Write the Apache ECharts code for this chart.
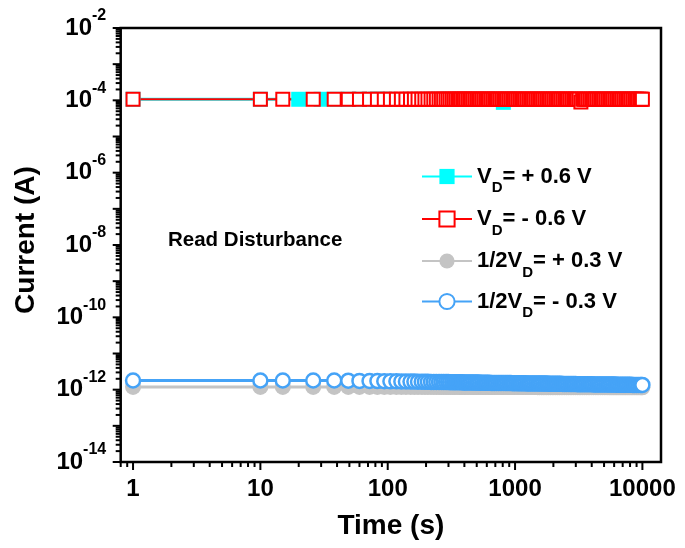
<!DOCTYPE html>
<html><head><meta charset="utf-8">
<script src="https://cdn.jsdelivr.net/npm/echarts@6/dist/echarts.min.js"></script>
<style>html,body{margin:0;padding:0;background:#fff}#c{width:685px;height:548px}</style>
</head><body><div id="c"></div>
<script>
// ---- data ----
const times = [
  1, 10, 15, 26, 38, 49, 60, 72, 83, 94,
  105, 117, 128, 139, 151, 162, 173, 185, 196, 207,
  219, 230, 241, 253, 264, 275, 287, 298, 309, 321,
  332, 343, 355, 366, 377, 389, 400,
  412, 426, 440, 454, 469, 485, 501, 517, 534, 552,
  570, 589, 608, 628, 649, 670, 692, 715, 739, 763,
  788, 814, 841, 869, 898, 927, 958, 989, 1022, 1056,
  1090, 1126, 1164, 1202, 1242, 1283, 1325, 1369, 1414, 1461,
  1509, 1559, 1610, 1663, 1718, 1775, 1834, 1894, 1957, 2021,
  2088, 2157, 2228, 2301, 2377, 2456, 2537, 2620, 2707, 2796,
  2888, 2984, 3082, 3184, 3289, 3398, 3510, 3626, 3745, 3869,
  3997, 4128, 4265, 4405, 4551, 4701, 4856, 5016, 5182, 5353,
  5529, 5712, 5900, 6095, 6296, 6504, 6719, 6940, 7169, 7406,
  7650, 7903, 8163, 8433, 8711, 8998, 9295, 9602, 9800, 10000
];
const redVals = [
  1.07e-4, 1.07e-4, 1.07e-4, 1.07e-4, 1.07e-4, 1.07e-4, 1.07e-4, 1.07e-4, 1.07e-4, 1.07e-4,
  1.07e-4, 1.07e-4, 1.07e-4, 1.07e-4, 1.07e-4, 1.07e-4, 1.07e-4, 1.07e-4, 1.07e-4, 1.07e-4,
  1.07e-4, 1.07e-4, 1.07e-4, 1.07e-4, 1.07e-4, 1.07e-4, 1.07e-4, 1.07e-4, 1.07e-4, 1.07e-4,
  1.07e-4, 1.07e-4, 1.07e-4, 1.07e-4, 1.07e-4, 1.07e-4, 1.07e-4,
  1.07e-4, 1.07e-4, 1.07e-4, 1.07e-4, 1.07e-4, 1.07e-4, 1.07e-4, 1.07e-4, 1.07e-4, 1.07e-4,
  1.07e-4, 1.07e-4, 1.07e-4, 1.07e-4, 1.07e-4, 1.07e-4, 1.07e-4, 1.07e-4, 1.07e-4, 1.07e-4,
  1.07e-4, 1.07e-4, 1.07e-4, 1.07e-4, 1.07e-4, 1.07e-4, 1.07e-4, 1.07e-4, 1.07e-4, 1.07e-4,
  1.07e-4, 1.07e-4, 1.07e-4, 1.07e-4, 1.07e-4, 1.07e-4, 1.07e-4, 1.07e-4, 1.07e-4, 1.07e-4,
  1.07e-4, 1.07e-4, 1.07e-4, 1.07e-4, 1.07e-4, 1.07e-4, 1.07e-4, 1.07e-4, 1.07e-4, 1.07e-4,
  1.07e-4, 1.07e-4, 1.07e-4, 1.07e-4, 1.07e-4, 1.07e-4, 1.07e-4, 1.07e-4, 1.07e-4, 1.07e-4,
  1.07e-4, 1.07e-4, 1.07e-4, 1.07e-4, 9.0e-5, 1.07e-4, 1.07e-4, 1.07e-4, 1.07e-4, 1.07e-4,
  1.07e-4, 1.07e-4, 1.07e-4, 1.07e-4, 1.07e-4, 1.07e-4, 1.07e-4, 1.07e-4, 1.07e-4, 1.07e-4,
  1.07e-4, 1.07e-4, 1.07e-4, 1.07e-4, 1.07e-4, 1.07e-4, 1.07e-4, 1.07e-4, 1.07e-4, 1.07e-4,
  1.07e-4, 1.07e-4, 1.07e-4, 1.07e-4, 1.07e-4, 1.07e-4, 1.07e-4, 1.07e-4, 1.07e-4, 1.07e-4
];
const grayVals = [
  1.19e-12, 1.19e-12, 1.19e-12, 1.19e-12, 1.19e-12, 1.19e-12, 1.19e-12, 1.19e-12, 1.19e-12, 1.19e-12,
  1.19e-12, 1.19e-12, 1.19e-12, 1.19e-12, 1.19e-12, 1.19e-12, 1.19e-12, 1.19e-12, 1.19e-12, 1.19e-12,
  1.19e-12, 1.19e-12, 1.19e-12, 1.19e-12, 1.19e-12, 1.19e-12, 1.19e-12, 1.19e-12, 1.19e-12, 1.19e-12,
  1.19e-12, 1.19e-12, 1.19e-12, 1.19e-12, 1.19e-12, 1.19e-12, 1.19e-12,
  1.18e-12, 1.18e-12, 1.18e-12, 1.18e-12, 1.18e-12, 1.18e-12, 1.18e-12, 1.18e-12, 1.18e-12, 1.18e-12,
  1.18e-12, 1.18e-12, 1.18e-12, 1.18e-12, 1.18e-12, 1.18e-12, 1.18e-12, 1.18e-12, 1.18e-12, 1.18e-12,
  1.18e-12, 1.18e-12, 1.18e-12, 1.18e-12, 1.18e-12, 1.18e-12, 1.18e-12, 1.18e-12, 1.18e-12, 1.18e-12,
  1.18e-12, 1.18e-12, 1.18e-12, 1.18e-12, 1.18e-12, 1.18e-12, 1.18e-12, 1.18e-12, 1.18e-12, 1.18e-12,
  1.17e-12, 1.17e-12, 1.17e-12, 1.17e-12, 1.17e-12, 1.17e-12, 1.17e-12, 1.17e-12, 1.17e-12, 1.17e-12,
  1.17e-12, 1.17e-12, 1.17e-12, 1.17e-12, 1.17e-12, 1.17e-12, 1.17e-12, 1.17e-12, 1.17e-12, 1.17e-12,
  1.17e-12, 1.17e-12, 1.17e-12, 1.17e-12, 1.17e-12, 1.17e-12, 1.17e-12, 1.17e-12, 1.17e-12, 1.17e-12,
  1.17e-12, 1.17e-12, 1.17e-12, 1.17e-12, 1.17e-12, 1.17e-12, 1.17e-12, 1.17e-12, 1.17e-12, 1.17e-12,
  1.16e-12, 1.16e-12, 1.16e-12, 1.16e-12, 1.16e-12, 1.16e-12, 1.16e-12, 1.16e-12, 1.16e-12, 1.16e-12,
  1.16e-12, 1.16e-12, 1.16e-12, 1.16e-12, 1.16e-12, 1.16e-12, 1.16e-12, 1.16e-12, 1.16e-12, 1.16e-12
];
const blueVals = [
  1.79e-12, 1.79e-12, 1.79e-12, 1.79e-12, 1.79e-12, 1.77e-12, 1.75e-12, 1.74e-12, 1.73e-12, 1.71e-12,
  1.70e-12, 1.70e-12, 1.69e-12, 1.68e-12, 1.67e-12, 1.67e-12, 1.66e-12, 1.66e-12, 1.65e-12, 1.65e-12,
  1.64e-12, 1.64e-12, 1.63e-12, 1.63e-12, 1.63e-12, 1.62e-12, 1.62e-12, 1.62e-12, 1.61e-12, 1.61e-12,
  1.61e-12, 1.60e-12, 1.60e-12, 1.60e-12, 1.60e-12, 1.59e-12, 1.59e-12,
  1.59e-12, 1.59e-12, 1.58e-12, 1.58e-12, 1.58e-12, 1.57e-12, 1.57e-12, 1.57e-12, 1.56e-12, 1.56e-12,
  1.56e-12, 1.55e-12, 1.55e-12, 1.55e-12, 1.54e-12, 1.54e-12, 1.54e-12, 1.54e-12, 1.53e-12, 1.53e-12,
  1.53e-12, 1.53e-12, 1.52e-12, 1.52e-12, 1.52e-12, 1.52e-12, 1.51e-12, 1.51e-12, 1.51e-12, 1.51e-12,
  1.50e-12, 1.50e-12, 1.50e-12, 1.50e-12, 1.49e-12, 1.49e-12, 1.49e-12, 1.49e-12, 1.48e-12, 1.48e-12,
  1.48e-12, 1.48e-12, 1.47e-12, 1.47e-12, 1.47e-12, 1.47e-12, 1.46e-12, 1.46e-12, 1.46e-12, 1.46e-12,
  1.45e-12, 1.45e-12, 1.45e-12, 1.45e-12, 1.44e-12, 1.44e-12, 1.44e-12, 1.44e-12, 1.43e-12, 1.43e-12,
  1.43e-12, 1.43e-12, 1.42e-12, 1.42e-12, 1.42e-12, 1.42e-12, 1.41e-12, 1.41e-12, 1.41e-12, 1.41e-12,
  1.41e-12, 1.40e-12, 1.40e-12, 1.40e-12, 1.40e-12, 1.39e-12, 1.39e-12, 1.39e-12, 1.39e-12, 1.39e-12,
  1.38e-12, 1.38e-12, 1.38e-12, 1.38e-12, 1.37e-12, 1.37e-12, 1.37e-12, 1.37e-12, 1.36e-12, 1.36e-12,
  1.36e-12, 1.36e-12, 1.36e-12, 1.35e-12, 1.35e-12, 1.35e-12, 1.35e-12, 1.35e-12, 1.35e-12, 1.35e-12
];
const cyanTimes = [1, 10, 20, 30, 40, 50, 60, 70, 80, 90, 100, 150, 200, 250, 300, 400, 500, 600, 700, 809, 900, 1000, 1500, 2000, 3000, 4000, 5000, 6000, 7000, 8000, 9000];
const cyanVals = [
  1.07e-4, 1.07e-4, 1.07e-4, 1.07e-4, 1.07e-4, 1.07e-4, 1.07e-4, 1.07e-4, 1.07e-4, 1.07e-4,
  1.07e-4, 1.07e-4, 1.07e-4, 1.07e-4, 1.07e-4, 1.07e-4, 1.07e-4, 1.07e-4, 1.07e-4, 8.8e-5,
  1.07e-4, 1.07e-4, 1.07e-4, 1.07e-4, 1.07e-4, 1.07e-4, 1.07e-4, 1.07e-4, 1.07e-4, 1.07e-4, 1.07e-4
];
const seriesNames = ['VD= + 0.6 V', 'VD= - 0.6 V', '1/2VD= + 0.3 V', '1/2VD= - 0.3 V'];
const xTickLabels = [1, 10, 100, 1000, 10000];
const yTickExponents = [-14, -12, -10, -8, -6, -4, -2];

// ---- axis extents ----
const X_MIN = 0.8, X_MAX = 14000, Y_MIN = 1e-14, Y_MAX = 1e-2;
const FONT = '"Liberation Sans", Arial, sans-serif';

// tick marks (drawn through the axes' log scales)
const xMajor = xTickLabels.slice();
const xMinor = [0.8, 0.9];
[1, 10, 100, 1000].forEach(d => { for (let k = 2; k <= 9; k++) xMinor.push(k * d); });
const yMajor = [], yMinor = [];
for (let e = -14; e <= -2; e++) {
  yMajor.push(Number('1e' + e));
  if (e < -2) for (let k = 2; k <= 9; k++) yMinor.push(Number(k + 'e' + e));
}
const tickData = []
  .concat(xMajor.map(v => [v, Y_MIN, 0]))
  .concat(xMinor.map(v => [v, Y_MIN, 1]))
  .concat(yMajor.map(v => [X_MIN, v, 2]))
  .concat(yMinor.map(v => [X_MIN, v, 3]));

function isLabelValue(v, list) {
  return list.some(t => Math.abs(Math.log10(v) - Math.log10(t)) < 1e-6);
}

const pair = (xs, ys) => xs.map((t, i) => [t, ys[i]]);

const legendRich = {
  n: {fontFamily: FONT, fontWeight: 'bold', fontSize: 22, color: '#000', lineHeight: 38},
  d: {fontFamily: FONT, fontWeight: 'bold', fontSize: 15, color: '#000', lineHeight: 15, verticalAlign: 'bottom'}
};
const legendTops = [165.5, 208, 250, 290.5];
const legends = seriesNames.map((nm, i) => ({
  orient: 'vertical', left: 421, top: legendTops[i], padding: 0,
  itemWidth: 50, itemHeight: 19, selectedMode: false,
  data: [nm],
  formatter: name => {
    const j = name.indexOf('VD');
    return '{n|' + name.slice(0, j) + 'V}{d|D}{n|' + name.slice(j + 2) + '}';
  },
  textStyle: {color: '#000', fontFamily: FONT, fontWeight: 'bold', fontSize: 22, rich: legendRich}
}));

const chart = echarts.init(document.getElementById('c'), null, {renderer: 'canvas'});
chart.setOption({
  animation: false,
  backgroundColor: '#fff',
  grid: {left: 120.7, right: 24, top: 28, bottom: 86, show: true, borderColor: '#000', borderWidth: 2.5, backgroundColor: 'transparent'},
  xAxis: {
    type: 'log', logBase: 10, min: X_MIN, max: X_MAX,
    axisLine: {show: false}, axisTick: {show: false}, splitLine: {show: false}, minorTick: {show: false},
    axisLabel: {
      margin: 15, color: '#000', fontFamily: FONT, fontWeight: 'bold', fontSize: 24,
      formatter: v => isLabelValue(v, xTickLabels) ? String(Math.round(v)) : ''
    },
    name: 'Time (s)', nameLocation: 'middle', nameGap: 50,
    nameTextStyle: {color: '#000', fontFamily: FONT, fontWeight: 'bold', fontSize: 28}
  },
  yAxis: [
    {
      type: 'log', logBase: 10, min: Y_MIN, max: Y_MAX,
      axisLine: {show: false}, axisTick: {show: false}, splitLine: {show: false}, axisLabel: {show: false},
      name: 'Current (A)', nameLocation: 'middle', nameGap: 80,
      nameTextStyle: {color: '#000', fontFamily: FONT, fontWeight: 'bold', fontSize: 28, padding: [0, 0, 0, 10]}
    },
    {
      type: 'value', position: 'left', min: yTickExponents[0], max: yTickExponents[yTickExponents.length - 1], interval: 2,
      axisLine: {show: false}, axisTick: {show: false}, splitLine: {show: false},
      axisLabel: {
        margin: 14.5, color: '#000',
        formatter: v => '{b|10}{s|' + v + '}',
        rich: {
          b: {fontFamily: FONT, fontWeight: 'bold', fontSize: 24, color: '#000', lineHeight: 40},
          s: {fontFamily: FONT, fontWeight: 'bold', fontSize: 16, color: '#000', lineHeight: 16, verticalAlign: 'top'}
        }
      }
    }
  ],
  legend: legends,
  graphic: [{
    type: 'text', left: 168, top: 230,
    style: {text: 'Read Disturbance', font: 'bold 20.5px ' + FONT, fill: '#000'}
  }],
  series: [
    {
      name: seriesNames[0], type: 'line', data: pair(cyanTimes, cyanVals),
      symbol: 'rect', symbolSize: 15, showAllSymbol: true, silent: true,
      itemStyle: {color: '#00ffff'}, lineStyle: {color: '#00ffff', width: 3},
      emphasis: {disabled: true}
    },
    {
      name: seriesNames[1], type: 'line', data: pair(times, redVals),
      symbol: 'rect', symbolSize: 13, showAllSymbol: true, silent: true,
      itemStyle: {color: '#ffffff', borderColor: '#ff0000', borderWidth: 2}, lineStyle: {color: '#ff0000', width: 2},
      emphasis: {disabled: true}
    },
    {
      name: seriesNames[2], type: 'line', data: pair(times, grayVals),
      symbol: 'circle', symbolSize: 16, showAllSymbol: true, silent: true,
      itemStyle: {color: '#c4c4c4'}, lineStyle: {color: '#c4c4c4', width: 3},
      emphasis: {disabled: true}
    },
    {
      name: seriesNames[3], type: 'line', data: pair(times, blueVals),
      symbol: 'circle', symbolSize: 14, showAllSymbol: true, silent: true,
      itemStyle: {color: '#ffffff', borderColor: '#45a3f7', borderWidth: 2.5}, lineStyle: {color: '#45a3f7', width: 3},
      emphasis: {disabled: true}
    },
    {
      name: 'ticks', type: 'custom', data: tickData, encode: {x: 0, y: 1}, silent: true, clip: false, z: 10,
      renderItem: (params, api) => {
        const k = api.value(2);
        const p = api.coord([api.value(0), api.value(1)]);
        let x2 = p[0], y2 = p[1];
        if (k === 0) y2 += 8; else if (k === 1) y2 += 5; else if (k === 2) x2 -= 8; else x2 -= 5;
        return {type: 'line', shape: {x1: p[0], y1: p[1], x2: x2, y2: y2}, style: {stroke: '#000', lineWidth: 2}};
      }
    }
  ]
});
</script>
</body></html>
